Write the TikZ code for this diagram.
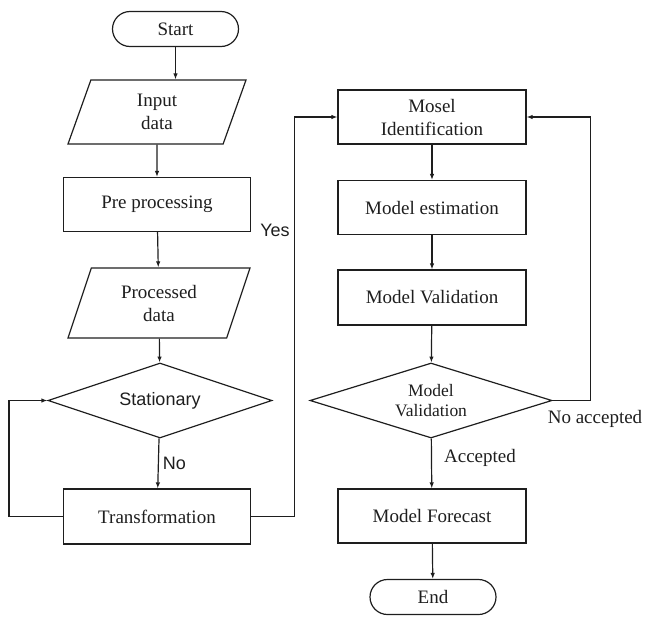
\documentclass[tikz,border=0pt]{standalone}
\usepackage{fontspec}
\setmainfont{Liberation Serif}
\newfontfamily\sansfont{Liberation Sans}
\usetikzlibrary{arrows.meta,shapes.geometric,shapes.misc}
\definecolor{ink}{HTML}{1E1E1E}
\newcommand{\boxfont}{\fontsize{19}{23}\selectfont}
\newcommand{\diafont}{\fontsize{17.5}{19.5}\selectfont}
\newcommand{\sanslabel}{\sansfont\fontsize{18}{22}\selectfont}
\tikzset{
 every node/.append style={font=\boxfont,text=ink,align=center},
 box/.style={draw=ink,line width=1.2pt,minimum width=187pt,minimum height=54pt,inner sep=2pt},
 io/.style={box,trapezium,trapezium left angle=60,trapezium right angle=120,trapezium stretches body,minimum width=178pt},
 term/.style={box,rounded rectangle,minimum width=130pt,minimum height=35pt},
 decide/.style={box,diamond,aspect=3,inner sep=0pt,minimum height=75pt},
 word/.style={inner sep=1pt},
 flow/.style={-{Latex[length=6pt,width=4.5pt]},draw=ink,line width=1.2pt},
}

\begin{document}
\begin{tikzpicture}[x=1pt,y=1pt]
\useasboundingbox (0,0) rectangle (645,-616);

% left column
\node[term] (start) at (175.5,-29) {Start};
\node[io,minimum height=64pt] (input) at (157,-112) {Input\\data};
\node[box] (pre) at (157,-204.5) {Pre processing};
\node[io,minimum height=70pt,minimum width=182pt] (processed) at (159,-303) {Processed\\data};
\node[decide,minimum width=224pt,font=\sanslabel] (stat) at (160,-400.5) {Stationary};
\node[box,minimum height=55pt] (trans) at (157,-516.5) {Transformation};

% right column
\node[box,minimum width=188pt] (ident) at (432,-117) {Mosel\\Identification};
\node[box,minimum width=188pt] (estim) at (432,-207.5) {Model estimation};
\node[box,minimum width=188pt,minimum height=55pt] (valid) at (432,-297.5) {Model Validation};
\node[decide,minimum width=242pt,font=\diafont] (check) at (431,-400.5) {Model\\Validation};
\node[box,minimum width=188pt] (fore) at (432,-516) {Model Forecast};
\node[term] (finish) at (433,-597) {End};

\draw[flow] (start.south) -- (start.south |- input.north);
\draw[flow] (input) -- (pre);
\draw[flow] (pre) -- (processed);
\draw[flow] (processed) -- (stat);
\draw[flow] (stat) -- node[word,right,xshift=3pt,font=\sanslabel] (no) {No} (trans);
\draw[flow] (trans.west) -- ++(-54,0) |- (stat.west);
\draw[flow] (trans.east) -- ++(43,0) |- (ident.west);
\node[word,font=\sanslabel] (yes) at (275,-230) {Yes};

\draw[flow] (ident) -- (estim);
\draw[flow] (estim) -- (valid);
\draw[flow] (valid) -- (check);
\draw[flow] (check) -- node[word,right,pos=.38,xshift=11pt] (acc) {Accepted} (fore);
\draw[flow] (check.east) -- ++(38,0) |- (ident.east);
\node[word] (noacc) at (595,-419) {No accepted};
\draw[flow] (fore) -- (finish);

\end{tikzpicture}
\end{document}
